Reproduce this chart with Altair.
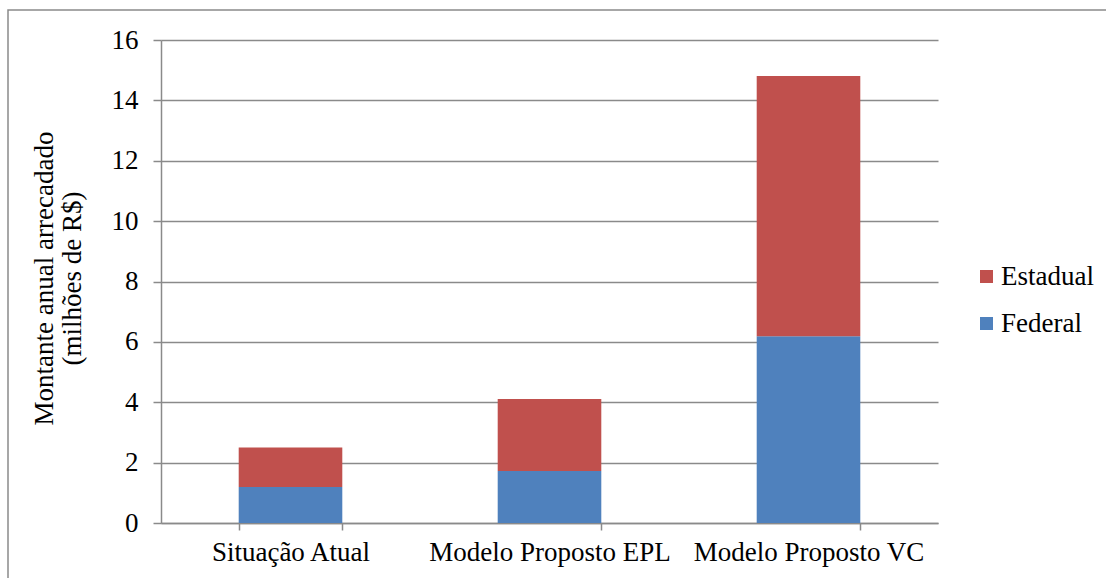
import altair as alt
import pandas as pd

# Annual amounts collected (millions of R$), per scenario and tax sphere
categories = ["Situação Atual", "Modelo Proposto EPL", "Modelo Proposto VC"]
federal = [1.19, 1.72, 6.19]
estadual = [1.31, 2.39, 8.62]
series = ["Estadual", "Federal"]
colors = ["#C0504D", "#4F81BD"]
y_ticks = [0, 2, 4, 6, 8, 10, 12, 14, 16]
y_title = ["Montante anual arrecadado", "(milhões de R$)"]

rows = []
for cat, fed, est in zip(categories, federal, estadual):
    rows.append({"categoria": cat, "serie": "Federal", "valor": fed, "ordem": 0})
    rows.append({"categoria": cat, "serie": "Estadual", "valor": est, "ordem": 1})
df = pd.DataFrame(rows)

FONT = "Liberation Serif"
FS = 27
GRAY = "#8a8a8a"
LINE_W = 1.5

bars = alt.Chart(df).mark_bar().encode(
    x=alt.X(
        "categoria:N",
        sort=categories,
        scale=alt.Scale(paddingInner=0.6, paddingOuter=0.3),
        axis=alt.Axis(
            title=None,
            labelAngle=0,
            labelLimit=0,
            tickBand="extent",
            grid=False,
            domainColor=GRAY,
            domainWidth=LINE_W,
            tickColor=GRAY,
            tickWidth=LINE_W,
            tickSize=7,
            labelPadding=9,
            labelFont=FONT,
            labelFontSize=FS,
            labelColor="black",
        ),
    ),
    y=alt.Y(
        "valor:Q",
        stack="zero",
        scale=alt.Scale(domain=[0, 16], nice=False),
        axis=alt.Axis(
            values=y_ticks,
            title=y_title,
            titleFont=FONT,
            titleFontSize=FS,
            titleFontWeight="normal",
            titleColor="black",
            titleAngle=-90,
            titleX=-117,
            titleY=238,
            titleAlign="center",
            titleBaseline="middle",
            titleLineHeight=28,
            grid=True,
            gridColor=GRAY,
            gridWidth=LINE_W,
            domainColor=GRAY,
            domainWidth=LINE_W,
            tickColor=GRAY,
            tickWidth=LINE_W,
            tickSize=8,
            labelPadding=15,
            labelFont=FONT,
            labelFontSize=FS,
            labelColor="black",
        ),
    ),
    color=alt.Color(
        "serie:N",
        scale=alt.Scale(domain=series, range=colors),
        legend=alt.Legend(
            title=None,
            orient="none",
            legendX=812,
            legendY=223,
            symbolType="square",
            symbolSize=169,
            symbolStrokeWidth=0,
            symbolOpacity=1,
            labelFont=FONT,
            labelFontSize=FS,
            labelColor="black",
            labelOffset=1,
            rowPadding=19,
            padding=0,
        ),
    ),
    order=alt.Order("ordem:Q"),
)

# Outer chart-area border
frame = alt.Chart(pd.DataFrame({"k": [0]})).mark_rect(
    fillOpacity=0, stroke=GRAY, strokeWidth=LINE_W
).encode(
    x=alt.value(-153), x2=alt.value(970), y=alt.value(-30), y2=alt.value(600)
)

chart = alt.layer(bars, frame).properties(
    width=777,
    height=483,
    autosize=alt.AutoSizeParams(type="none"),
    padding={"left": 161, "top": 40, "right": 168, "bottom": 55},
    background="white",
).configure_view(stroke=None)

chart.save("out.html", embed_options={"renderer": "svg", "actions": False})
